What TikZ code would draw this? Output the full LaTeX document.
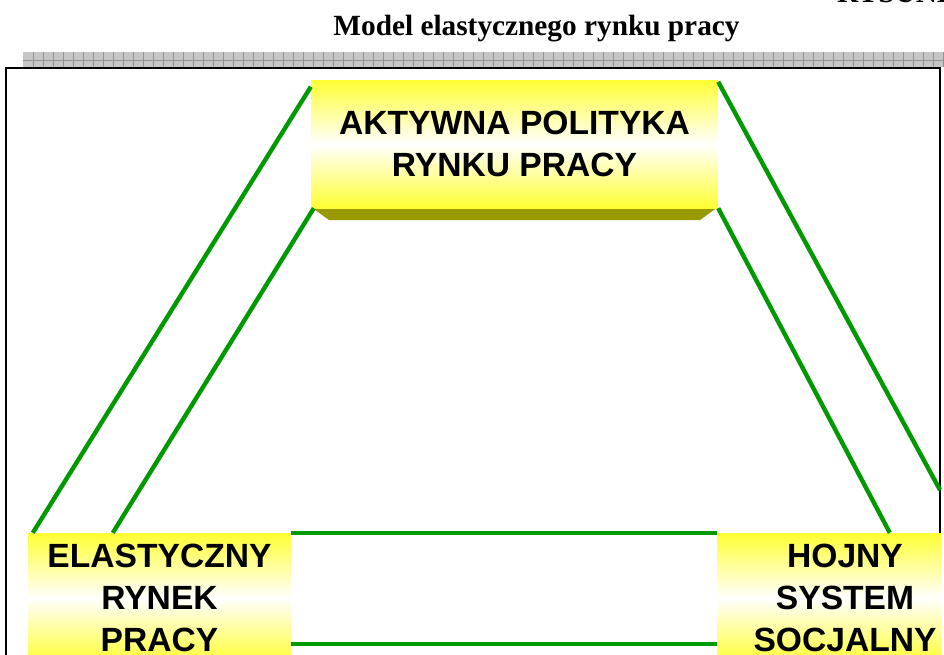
\documentclass[tikz,border=0pt]{standalone}
\usepackage{fontspec}
\setmainfont{Liberation Serif}
\setsansfont{Liberation Sans}
\usetikzlibrary{calc}
\definecolor{lgreen}{HTML}{009900}
\definecolor{boxyel}{HTML}{FFFF33}
\definecolor{shadol}{HTML}{999900}
\tikzset{
  box/.style={inner sep=0pt,top color=boxyel,bottom color=boxyel,middle color=white},% yellow block
  lbl/.style={align=center,inner sep=0pt,font=\sffamily\bfseries\fontsize{33.6}{42}\selectfont},
  link/.style={lgreen,line width=4.4pt},
  ttl/.style={font=\rmfamily\bfseries\fontsize{29.3}{34}\selectfont,inner sep=0pt},
  frame/.style={draw=black,line width=2pt},
  grid/.style={gray!85,line width=0.8pt},
}
\begin{document}
\begin{tikzpicture}[x=1pt,y=-1pt]
  \useasboundingbox (0,0) rectangle (944,654);
  \clip (0,0) rectangle (944,654);
  % heading
  \node[ttl,anchor=base west] (rys) at (837,2) {RYSUNEK};
  \node[ttl,anchor=base] (title) at (536.5,35) {Model elastycznego rynku pracy};
  % grey band
  \fill[gray!45] (23,52) rectangle (944,67);
  \foreach \x in {33,43,...,943} \draw[grid] (\x,52) -- (\x,67);
  \draw[grid] (23,60) -- (944,60);
  \draw[frame] (6,700) |- (940,68) -- (940,700);
  % blocks (shapes only)
  \coordinate (aprc) at (514.5,144);
  \fill[shadol] (311,207) -- (718,207) -- (700,220) -- (329,220) -- cycle;
  \node[box,minimum width=407pt,minimum height=128pt] (apr) at (aprc) {};
  \node[box,minimum width=263pt,minimum height=130pt] (erp) at (159.5,598) {};
  \node[box,minimum width=224pt,minimum height=130pt] (hsp) at (829,598) {};
  % links
  \coordinate (rend) at (940,490);
  \draw[link] ([yshift=-7pt]apr.north west) -- ([xshift=5pt]erp.north west);
  \draw[link] ([xshift=3pt]apr.south west) -- ([xshift=85pt]erp.north west);
  \draw[link] ([yshift=-2pt]apr.north east) -- (rend);
  \draw[link] (apr.south east) -- ([xshift=173pt]hsp.north west);
  \draw[link] (erp.north east) -- (hsp.north west);
  \draw[link] ([yshift=-46pt]erp.east) -- ([yshift=-46pt]hsp.west);
  % labels
  \node[lbl] (aprt) at (apr.center) {AKTYWNA POLITYKA\\RYNKU PRACY};
  \node[lbl] (erpt) at (erp.center) {ELASTYCZNY\\RYNEK\\PRACY};
  \node[lbl] (hspt) at ([xshift=16pt]hsp.center) {HOJNY\\SYSTEM\\SOCJALNY};
\end{tikzpicture}
\end{document}
